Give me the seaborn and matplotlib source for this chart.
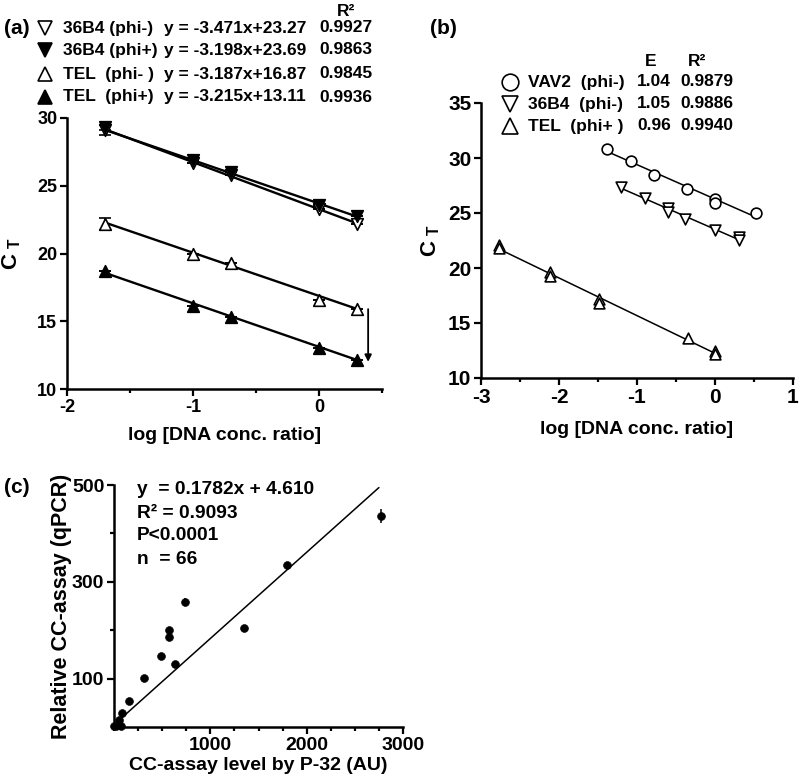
import matplotlib
matplotlib.use('Agg')
import matplotlib.pyplot as plt
import numpy as np
import pandas as pd
import seaborn as sns

# ---- panel (a) data ----
a_x = [-1.7, -1.0, -0.7, 0.0, 0.3]
a_names = ['36B4 (phi-)', '36B4 (phi+)', 'TEL  (phi- )', 'TEL  (phi+)']
a_y = [
    [29.1, 26.7, 25.8, 23.3, 22.2],
    [29.3, 26.9, 26.0, 23.6, 22.8],
    [22.2, 20.0, 19.3, 16.6, 15.9],
    [18.7, 16.1, 15.3, 13.0, 12.15],
]
a_err = [
    [0.35, 0, 0, 0, 0],
    [0.2, 0, 0, 0, 0],
    [0.45, 0, 0, 0, 0],
    [0, 0, 0, 0, 0],
]
a_slope = [-3.471, -3.198, -3.187, -3.215]
a_icpt = [23.27, 23.69, 16.87, 13.11]
a_r2 = ['0.9927', '0.9863', '0.9845', '0.9936']
a_marker = ['v', 'v', '^', '^']
a_fill = ['white', 'black', 'white', 'black']

# ---- panel (b) data ----
vav2_x = [-1.38, -1.08, -0.78, -0.36, 0.0, 0.0, 0.52]
vav2_y = [30.8, 29.75, 28.5, 27.2, 26.3, 25.95, 25.0]
b36_x = [-1.21, -0.9, -0.6, -0.6, -0.39, 0.0, 0.31, 0.31]
b36_y = [27.4, 26.4, 25.5, 25.1, 24.5, 23.5, 22.8, 22.5]
tel_x = [-2.77, -2.77, -2.12, -2.12, -1.49, -1.49, -0.35, 0.0, 0.0]
tel_y = [22.1, 21.8, 19.6, 19.3, 17.2, 16.8, 13.6, 12.5, 12.2]
b_names = ['VAV2  (phi-)', '36B4  (phi-)', 'TEL  (phi+ )']
b_E = ['1.04', '1.05', '0.96']
b_r2 = ['0.9879', '0.9886', '0.9940']
b_marker = ['o', 'v', '^']

# ---- panel (c) data ----
cc_x = [0, 24, 48, 76, 86, 152, 310, 483, 569, 569, 634, 734, 1345, 1800, 2776]
cc_y = [2, 3, 14, 2, 28, 53, 101, 147, 185, 200, 130, 259, 204, 334, 436]
cc_err = [3, 3, 3, 3, 3, 3, 3, 5, 4, 4, 4, 7, 4, 3, 15]
fit_slope, fit_icpt = 0.1782, 4.610
fit_range = [0, 2750]

sns.set_style('ticks')
plt.rcParams['font.family'] = ['Liberation Sans', 'DejaVu Sans']
plt.rcParams['font.weight'] = 'bold'
plt.rcParams['axes.labelweight'] = 'bold'
plt.rcParams['axes.unicode_minus'] = False
plt.rcParams['mathtext.fontset'] = 'custom'
plt.rcParams['mathtext.bf'] = 'Liberation Sans:bold'
plt.rcParams['mathtext.rm'] = 'Liberation Sans:bold'
for key in ['text.color', 'axes.labelcolor', 'axes.edgecolor', 'xtick.color', 'ytick.color']:
    plt.rcParams[key] = 'black'

W, H = 800, 781
fig = plt.figure(figsize=(8, 7.81), dpi=100)


def fx(px):
    return px / W


def fy(py):
    return 1 - py / H


def style_axis(ax, lsize):
    sns.despine(ax=ax)
    for s in ['left', 'bottom']:
        ax.spines[s].set_linewidth(1.8)
    ax.tick_params(which='major', width=1.6, length=5, labelsize=lsize, direction='out', pad=2)
    ax.tick_params(which='minor', width=1.6, length=3, direction='out')


# ================= (a) =================
ax_a = fig.add_axes([fx(67), fy(389), fx(382 - 67), (389 - 118) / H])
ax = ax_a
for i in range(4):
    df = pd.DataFrame({'x': a_x, 'y': a_y[i]})
    xs = np.array([a_x[0], a_x[-1]])
    line = pd.DataFrame({'x': xs, 'y': a_slope[i] * xs + a_icpt[i]})
    sns.lineplot(data=line, x='x', y='y', ax=ax, color='black', lw=1.7)
    ax.errorbar(a_x, a_y[i], yerr=a_err[i], fmt='none', ecolor='black',
                elinewidth=1.2, capsize=4, capthick=1.2)
    sns.scatterplot(data=df, x='x', y='y', ax=ax, marker=a_marker[i], s=70,
                    facecolor=a_fill[i], edgecolor='black', linewidth=1.2, zorder=5)
ax.annotate('', xy=(0.39, 11.8), xytext=(0.39, 16.1),
            arrowprops=dict(arrowstyle='-|>', color='black', lw=1.3,
                            mutation_scale=10))
ax.set_xlim(-2, 0.5)
ax.set_ylim(10, 30)
ax.set_xticks([-2, -1, 0])
ax.set_xticks([-1.5, -0.5, 0.5], minor=True)
ax.set_yticks([10, 15, 20, 25, 30])
ax.set_xlabel('log [DNA conc. ratio]', fontsize=14, fontweight='bold', labelpad=8)
ax.set_ylabel(r'$\mathbf{C_{\ T}}$', fontsize=16, labelpad=10)
style_axis(ax, 13)

fig.text(fx(17), fy(28), '(a)', fontsize=15, ha='center', va='center')
fig.text(fx(346), fy(12), 'R²', fontsize=12.5, ha='center', va='center', fontweight='bold')
row_y = [28, 50, 74, 97]
for i in range(4):
    fig.lines.append(plt.Line2D([fx(45)], [fy(row_y[i])], transform=fig.transFigure,
                                marker=a_marker[i], markersize=10,
                                markerfacecolor=a_fill[i], markeredgecolor='black',
                                markeredgewidth=1.2, linestyle='none'))
    fig.text(fx(63), fy(row_y[i]), a_names[i], fontsize=12.5, va='center', fontweight='bold')
    eq = 'y = %.3fx+%.2f' % (a_slope[i], a_icpt[i])
    fig.text(fx(164), fy(row_y[i]), eq, fontsize=12.5, va='center', fontweight='bold')
    fig.text(fx(319), fy(row_y[i]), a_r2[i], fontsize=12.5, va='center', fontweight='bold')

# ================= (b) =================
ax_b = fig.add_axes([fx(481), fy(378), fx(793 - 481), (378 - 103) / H])
ax = ax_b
b_sets = [(vav2_x, vav2_y), (b36_x, b36_y), (tel_x, tel_y)]
for (xs, ys), mk in zip(b_sets, b_marker):
    df = pd.DataFrame({'x': xs, 'y': ys})
    sns.regplot(data=df, x='x', y='y', ax=ax, scatter=False, ci=None,
                line_kws=dict(color='black', lw=1.1))
    sns.scatterplot(data=df, x='x', y='y', ax=ax, marker=mk, s=60,
                    facecolor='white', edgecolor='black', linewidth=1.2, zorder=5)
ax.set_xlim(-3, 1)
ax.set_ylim(10, 35)
ax.set_xticks([-3, -2, -1, 0, 1])
ax.set_xticks([-2.5, -1.5, -0.5, 0.5], minor=True)
ax.set_yticks([10, 15, 20, 25, 30, 35])
ax.set_xlabel('log [DNA conc. ratio]', fontsize=14, fontweight='bold', labelpad=10)
ax.set_ylabel(r'$\mathbf{C_{\ T}}$', fontsize=16, labelpad=4)
style_axis(ax, 15)

fig.text(fx(443), fy(28), '(b)', fontsize=15, ha='center', va='center')
fig.text(fx(651), fy(62), 'E', fontsize=12.5, ha='center', va='center')
fig.text(fx(697), fy(62), 'R²', fontsize=12.5, ha='center', va='center')
row_y = [82, 104, 126]
for i in range(3):
    fig.lines.append(plt.Line2D([fx(510)], [fy(row_y[i])], transform=fig.transFigure,
                                marker=b_marker[i], markersize=12,
                                markerfacecolor='white', markeredgecolor='black',
                                markeredgewidth=1.2, linestyle='none'))
    fig.text(fx(528), fy(row_y[i]), b_names[i], fontsize=12.5, va='center')
    fig.text(fx(637), fy(row_y[i]), b_E[i], fontsize=12.5, va='center')
    fig.text(fx(680), fy(row_y[i]), b_r2[i], fontsize=12.5, va='center')

# ================= (c) =================
ax_c = fig.add_axes([fx(114), fy(727), fx(403 - 114), (727 - 485) / H])
ax = ax_c
fx_arr = np.array(fit_range)
fit_df = pd.DataFrame({'x': fx_arr, 'y': fit_slope * fx_arr + fit_icpt})
sns.lineplot(data=fit_df, x='x', y='y', ax=ax, color='black', lw=1.1)
ax.errorbar(cc_x, cc_y, yerr=cc_err, fmt='none', ecolor='black', elinewidth=1.1,
            capsize=0, clip_on=False)
sns.scatterplot(x=cc_x, y=cc_y, ax=ax, marker='o', s=32, color='black',
                edgecolor='black', zorder=5, clip_on=False)
ax.set_xlim(0, 3000)
ax.set_ylim(0, 500)
ax.set_xticks([1000, 2000, 3000])
ax.set_xticks(np.arange(0, 3001, 250), minor=True)
ax.set_yticks([100, 300, 500])
ax.set_yticks([200, 400], minor=True)
ax.set_xlabel('CC-assay level by P-32 (AU)', fontsize=14, fontweight='bold', labelpad=2)
ax.set_ylabel('Relative CC-assay (qPCR)', fontsize=15.5, fontweight='bold', labelpad=0)
style_axis(ax, 14)

fig.text(fx(17), fy(487), '(c)', fontsize=15, ha='center', va='center')
c_lines = ['y  = %.4fx + %.3f' % (fit_slope, fit_icpt), 'R² = 0.9093', 'P<0.0001', 'n  = 66']
for j, t in enumerate(c_lines):
    fig.text(fx(137), fy(490 + 23 * j), t, fontsize=13.8, va='center')

fig.savefig('out.png', dpi=100)
